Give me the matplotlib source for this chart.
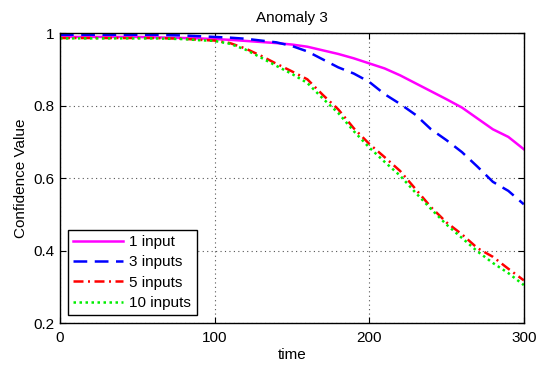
import numpy as np
import matplotlib
matplotlib.use('Agg')
import matplotlib.pyplot as plt
from matplotlib.ticker import FormatStrFormatter

plt.rcParams['font.family'] = ['Liberation Sans', 'DejaVu Sans']

t = np.arange(0, 301, 10)

# confidence values, one per 10 time units
conf_1 = [0.990, 0.990, 0.990, 0.990, 0.990, 0.990, 0.989, 0.988, 0.987, 0.986,
          0.984, 0.982, 0.979, 0.976, 0.973, 0.969, 0.963, 0.953, 0.943, 0.931,
          0.917, 0.903, 0.884, 0.862, 0.840, 0.818, 0.795, 0.765, 0.735, 0.714,
          0.680]
conf_3 = [0.996, 0.996, 0.996, 0.996, 0.996, 0.996, 0.996, 0.995, 0.994, 0.992,
          0.990, 0.988, 0.985, 0.980, 0.975, 0.965, 0.950, 0.928, 0.906, 0.889,
          0.866, 0.832, 0.805, 0.775, 0.735, 0.705, 0.672, 0.632, 0.590, 0.565,
          0.528]
conf_5 = [0.987, 0.987, 0.987, 0.987, 0.987, 0.987, 0.987, 0.986, 0.985, 0.982,
          0.980, 0.973, 0.958, 0.938, 0.916, 0.895, 0.873, 0.830, 0.790, 0.738,
          0.695, 0.658, 0.620, 0.570, 0.520, 0.478, 0.445, 0.407, 0.383, 0.350,
          0.318]
conf_10 = [0.986, 0.986, 0.986, 0.986, 0.986, 0.986, 0.986, 0.985, 0.984, 0.981,
           0.979, 0.971, 0.955, 0.933, 0.910, 0.888, 0.863, 0.820, 0.780, 0.730,
           0.685, 0.645, 0.607, 0.560, 0.515, 0.472, 0.435, 0.398, 0.366, 0.338,
           0.305]

fig = plt.figure(figsize=(5.4, 3.68), dpi=100)
ax = fig.add_axes([0.111, 0.122, 0.859, 0.7875])

lw = 1.8
ax.plot(t, conf_1, color='#ff00ff', lw=lw, label='1 input')
ax.plot(t, conf_3, color='#0000ff', lw=lw, dashes=(5.5, 3), label='3 inputs')
ax.plot(t, conf_5, color='#ff0000', lw=lw, dashes=(4, 1.8, 0.8, 1.8), label='5 inputs')
ax.plot(t, conf_10, color='#00ee00', lw=lw, dashes=(1, 1.4), label='10 inputs')

ax.set_xlim(0, 300)
ax.set_ylim(0.2, 1)
ax.set_xticks([0, 100, 200, 300])
ax.set_yticks([0.2, 0.4, 0.6, 0.8, 1])
ax.yaxis.set_major_formatter(FormatStrFormatter('%g'))
ax.tick_params(direction='in', top=True, right=True, labelsize=11, length=4)
ax.tick_params(axis='x', pad=6)
ax.tick_params(axis='y', pad=4)
ax.grid(True, linestyle=(0, (1, 3)), color='#555555', linewidth=0.8)
for s in ax.spines.values():
    s.set_linewidth(1.0)

ax.set_title('Anomaly 3', fontsize=11, pad=8)
ax.set_xlabel('time', fontsize=11, labelpad=2)
ax.set_ylabel('Confidence Value', fontsize=11, labelpad=4)

leg = ax.legend(loc='lower left', fontsize=11, handlelength=3.3, handletextpad=0.4,
                labelspacing=0.42, borderpad=0.35, fancybox=False, framealpha=1,
                borderaxespad=0.5)
leg.get_frame().set_edgecolor('black')
leg.get_frame().set_linewidth(1.0)

fig.savefig('out.png', dpi=100)
